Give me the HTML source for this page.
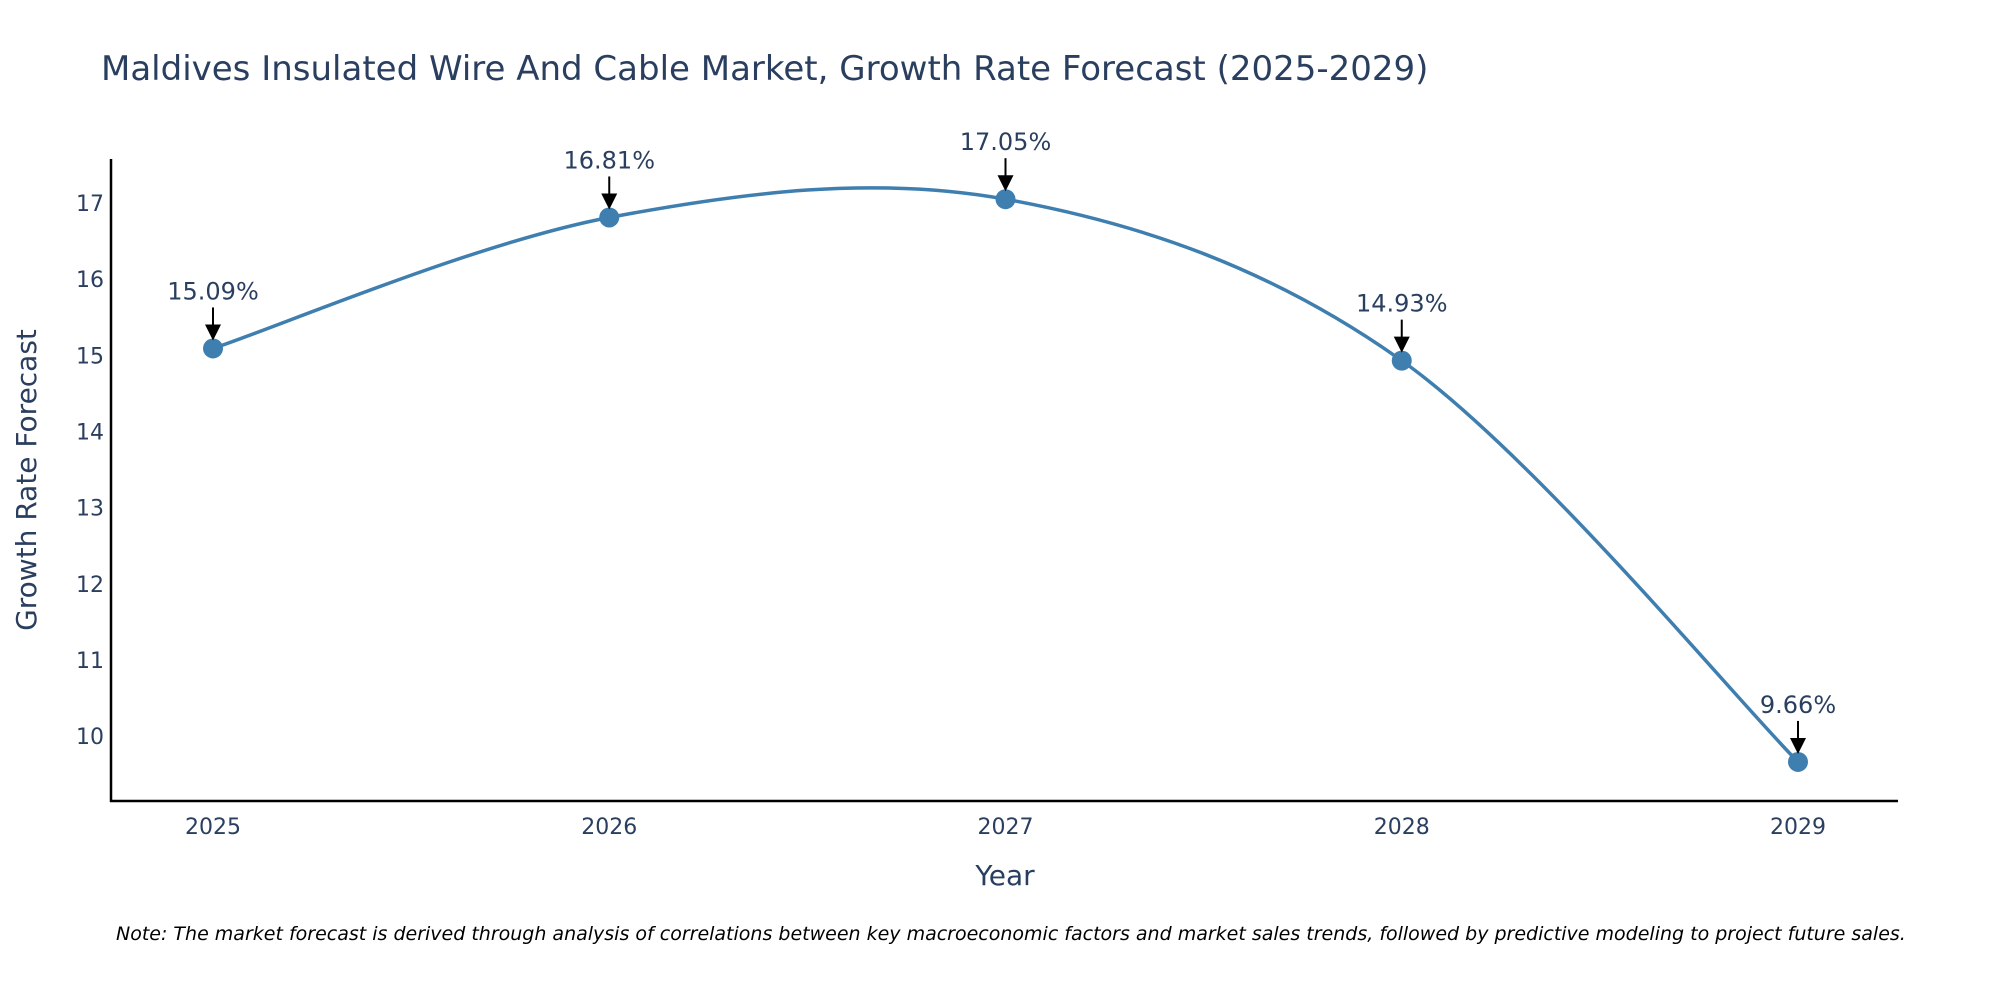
<!DOCTYPE html>
<html><head><meta charset="utf-8"><style>
body{margin:0;background:#fff;overflow:hidden;}
svg{display:block;font-family:"DejaVu Sans","Liberation Sans",sans-serif;}
</style></head><body>
<svg id="chart" width="2000" height="1000">
<text x="101" y="80" font-size="34" fill="#2a3f5f">Maldives Insulated Wire And Cable Market, Growth Rate Forecast (2025-2029)</text>
<line x1="111" y1="159" x2="111" y2="802" stroke="#000" stroke-width="2.5"/>
<line x1="110" y1="801" x2="1898" y2="801" stroke="#000" stroke-width="2.5"/>
<text transform="translate(36,480) rotate(-90)" text-anchor="middle" font-size="28" fill="#2a3f5f">Growth Rate Forecast</text>
<text x="1005" y="885" text-anchor="middle" font-size="28" fill="#2a3f5f">Year</text>
<text x="116" y="940" font-size="19" font-style="italic" fill="#000">Note: The market forecast is derived through analysis of correlations between key macroeconomic factors and market sales trends, followed by predictive modeling to project future sales.</text>
<g id="ticks"></g><g id="series"></g>
</svg>
<script>
const years = ["2025","2026","2027","2028","2029"];
const values = [15.09, 16.81, 17.05, 14.93, 9.66];
const labels = ["15.09%","16.81%","17.05%","14.93%","9.66%"];
const yTicks = [10,11,12,13,14,15,16,17];
const NS="http://www.w3.org/2000/svg";
const x0=213, dx=396.25;
function xs(i){return x0+i*dx;}
function ys(v){return 203+(17-v)*76.15;}
function mk(tag,attrs,parent){const e=document.createElementNS(NS,tag);for(const k in attrs)e.setAttribute(k,attrs[k]);parent.appendChild(e);return e;}
const tg=document.getElementById('ticks'), sg=document.getElementById('series');
yTicks.forEach(t=>{const e=mk('text',{x:104,y:ys(t)+8,'text-anchor':'end','font-size':22,fill:'#2a3f5f'},tg);e.textContent=t;

});
years.forEach((y,i)=>{const e=mk('text',{x:xs(i),y:834,'text-anchor':'middle','font-size':22,fill:'#2a3f5f'},tg);e.textContent=y;

});
const P=values.map((v,i)=>[xs(i),ys(v)]);
let d=`M${P[0][0]},${P[0][1]}`;const s=1/6;
for(let i=0;i<P.length-1;i++){const p0=P[Math.max(i-1,0)],p1=P[i],p2=P[i+1],p3=P[Math.min(i+2,P.length-1)];
d+=` C${p1[0]+(p2[0]-p0[0])*s},${p1[1]+(p2[1]-p0[1])*s} ${p2[0]-(p3[0]-p1[0])*s},${p2[1]-(p3[1]-p1[1])*s} ${p2[0]},${p2[1]}`;}
const line=mk('path',{d:d,fill:'none',stroke:'#3f7fb0','stroke-width':3.5},sg);


P.forEach((p,i)=>{
const c=mk('circle',{cx:p[0],cy:p[1],r:10,fill:'#3f7fb0'},sg);


const a=mk('line',{x1:p[0],y1:p[1]-41,x2:p[0],y2:p[1]-22,stroke:'#000','stroke-width':2},sg);


const h=mk('polygon',{points:`${p[0]-8},${p[1]-24} ${p[0]+8},${p[1]-24} ${p[0]},${p[1]-8}`,fill:'#000'},sg);


const t=mk('text',{x:p[0],y:p[1]-49,'text-anchor':'middle','font-size':24,fill:'#2a3f5f'},sg);t.textContent=labels[i];


});
</script>
</body></html>
